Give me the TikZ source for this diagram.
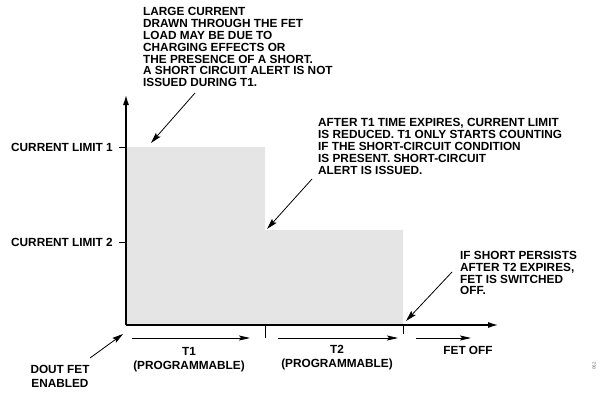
\documentclass[tikz,border=0pt]{standalone}
\usepackage{fontspec}
\setmainfont{Liberation Sans}
\usetikzlibrary{arrows.meta}
\begin{document}
\begin{tikzpicture}[x=1pt,y=-1pt,
  lbl/.style={font=\bfseries\fontsize{11.8}{11.8}\selectfont, inner sep=0pt, align=left},
  clbl/.style={font=\bfseries\fontsize{11.8}{14}\selectfont, inner sep=0pt, align=center},
  axis/.style={line width=1.2pt, -{Latex[length=10pt,width=6pt]}},
  tick/.style={line width=1pt},
  callout/.style={line width=0.8pt, -{Stealth[length=11pt,width=6pt,inset=2pt]}},
  span/.style={line width=0.8pt, -{Stealth[length=11pt,width=5pt,inset=2pt]}},
  region/.style={fill=black!10!white}
]
\useasboundingbox (0,0) rectangle (599,394);
% shaded current-limit region
\fill[region] (127,147) -- (265,147) -- (265,230) -- (403,230) -- (403,325) -- (127,325) -- cycle;
% axes
\coordinate (O) at (126,325);
\coordinate (Ytop) at (126,95);
\coordinate (Xend) at (498,325);
\draw[axis] (O) -- (Ytop);
\draw[axis] (O) -- (Xend);
% y ticks
\coordinate (y1a) at (119,147); \coordinate (y1b) at (126,147);
\coordinate (y2a) at (119,242); \coordinate (y2b) at (126,242);
\draw[tick] (y1a) -- (y1b);
\draw[tick] (y2a) -- (y2b);
% x ticks
\coordinate (x1a) at (265,325); \coordinate (x1b) at (265,338);
\coordinate (x2a) at (403,325); \coordinate (x2b) at (403,334);
\draw[tick] (x1a) -- (x1b);
\draw[tick] (x2a) -- (x2b);
% y labels
\node[lbl, anchor=east] (cl1) at (113,147) {CURRENT LIMIT 1};
\node[lbl, anchor=east] (cl2) at (113,242) {CURRENT LIMIT 2};
% callout texts
\node[lbl, anchor=north west] (note1) at (143,7.5) {LARGE CURRENT\\DRAWN THROUGH THE FET\\LOAD MAY BE DUE TO\\CHARGING EFFECTS OR\\THE PRESENCE OF A SHORT.\\A SHORT CIRCUIT ALERT IS NOT\\ISSUED DURING T1.};
\node[lbl, anchor=north west] (note2) at (318,118.5) {AFTER T1 TIME EXPIRES, CURRENT LIMIT\\IS REDUCED. T1 ONLY STARTS COUNTING\\IF THE SHORT-CIRCUIT CONDITION\\IS PRESENT. SHORT-CIRCUIT\\ALERT IS ISSUED.};
\node[lbl, anchor=north west] (note3) at (460,251) {IF SHORT PERSISTS\\AFTER T2 EXPIRES,\\FET IS SWITCHED\\OFF.};
\node[clbl, anchor=north] (dout) at (60,365.5) {DOUT FET\\ENABLED};
% callout arrows
\coordinate (a1s) at (195,93);  \coordinate (a1e) at (151,143);
\coordinate (a2s) at (312,179); \coordinate (a2e) at (267,229);
\coordinate (a3s) at (452,272); \coordinate (a3e) at (406,321);
\coordinate (a4s) at (90,358);  \coordinate (a4e) at (123,334);
\draw[callout] (a1s) -- (a1e);
\draw[callout] (a2s) -- (a2e);
\draw[callout] (a3s) -- (a3e);
\draw[callout] (a4s) -- (a4e);
% duration arrows
\coordinate (t1s) at (132,338); \coordinate (t1e) at (250,338);
\coordinate (t2s) at (278,338); \coordinate (t2e) at (398,338);
\coordinate (t3s) at (416,338); \coordinate (t3e) at (471,338);
\draw[span] (t1s) -- (t1e);
\draw[span] (t2s) -- (t2e);
\draw[span] (t3s) -- (t3e);
\node[clbl, anchor=north] (t1) at (189,347.5) {T1\\(PROGRAMMABLE)};
\node[clbl, anchor=north] (t2) at (337,345.5) {T2\\(PROGRAMMABLE)};
\node[clbl] (off) at (468,350) {FET OFF};
% figure id
\node[rotate=90, font=\fontsize{4.5}{5}\selectfont, text=black!60, inner sep=0pt] (fig) at (594,366) {062};
\end{tikzpicture}
\end{document}
